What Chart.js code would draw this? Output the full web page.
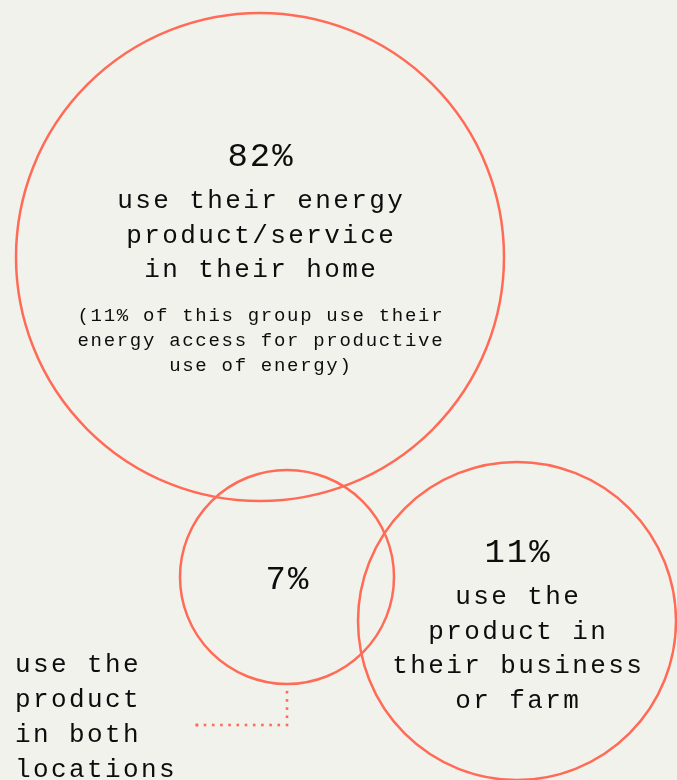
<!DOCTYPE html>
<html>
<head>
<meta charset="utf-8">
<script src="https://cdn.jsdelivr.net/npm/chart.js@4"></script>
<style>
  html, body { margin: 0; padding: 0; background: #f2f2ec; }
  #wrap { width: 677px; height: 780px; }
</style>
</head>
<body>
<div id="wrap"><canvas id="vennChart" width="677" height="780"></canvas></div>
<script>
// shares of respondents
const groups = ['home', 'both', 'business'];
const shares = [82, 7, 11];
const descriptions = [
    ['use their energy', 'product/service', 'in their home'],
    [],
    ['use the', 'product in', 'their business', 'or farm']
];
const notes = ['(11% of this group use their', 'energy access for productive', 'use of energy)'];
const bothLabel = ['use the', 'product', 'in both', 'locations'];

// diagram layout in axis units (x 0-677, y 0-780)
const centersX = [260, 287, 517];
const centersY = [257, 577, 621];
const radii = [244, 107, 159];

const coral = '#ff6b57';
const fontFamily = '"Liberation Mono", "DejaVu Sans Mono", monospace';

// draws text with extra letter spacing, char by char
function drawSpaced(ctx, text, x, y, size, spacing, align) {
    ctx.font = size + 'px ' + fontFamily;
    const chars = text.split('');
    const widths = chars.map(c => ctx.measureText(c).width);
    const total = widths.reduce((a, b) => a + b, 0) + spacing * (chars.length - 1);
    let cx = align === 'center' ? x - total / 2 : x;
    ctx.textAlign = 'left';
    ctx.textBaseline = 'alphabetic';
    chars.forEach((c, i) => {
        ctx.fillText(c, cx, y);
        cx += widths[i] + spacing;
    });
}

const labelsPlugin = {
    id: 'vennLabels',
    afterDatasetsDraw(chart) {
        const ctx = chart.ctx;
        const xs = chart.scales.x;
        const ys = chart.scales.y;
        ctx.save();
        ctx.fillStyle = '#0d0d0d';

        // big circle
        let cx = xs.getPixelForValue(centersX[0]);
        let cy = ys.getPixelForValue(centersY[0]);
        drawSpaced(ctx, shares[0] + '%', cx, cy - 91, 34, 2, 'center');
        descriptions[0].forEach((t, i) => drawSpaced(ctx, t, cx, cy - 49 + i * 34.5, 26, 2.4, 'center'));
        notes.forEach((t, i) => drawSpaced(ctx, t, cx, cy + 64 + i * 25, 19, 1.7, 'center'));

        // overlap circle
        cx = xs.getPixelForValue(centersX[1]);
        cy = ys.getPixelForValue(centersY[1]);
        drawSpaced(ctx, shares[1] + '%', cx, cy + 12, 34, 2, 'center');

        // business circle
        cx = xs.getPixelForValue(centersX[2]);
        cy = ys.getPixelForValue(centersY[2]);
        drawSpaced(ctx, shares[2] + '%', cx, cy - 59, 34, 2, 'center');
        descriptions[2].forEach((t, i) => drawSpaced(ctx, t, cx, cy - 17 + i * 34.5, 26, 2.4, 'center'));

        // label for the overlap, bottom left
        bothLabel.forEach((t, i) => drawSpaced(ctx, t, 15, 672 + i * 35, 26, 2.4, 'left'));

        // dotted leader from the overlap circle
        const lx = xs.getPixelForValue(centersX[1]);
        const top = ys.getPixelForValue(centersY[1]) + radii[1] + 6;
        const ly = 725;
        ctx.fillStyle = coral;
        for (let y = ly; y >= top; y -= 8.2) ctx.fillRect(lx - 1.3, y - 1.3, 2.6, 2.6);
        for (let x = lx - 8.2; x >= 196; x -= 8.2) ctx.fillRect(x - 1.3, ly - 1.3, 2.6, 2.6);
        ctx.fillRect(197 - 1.3, ly - 1.3, 2.6, 2.6);
        ctx.restore();
    }
};

new Chart(document.getElementById('vennChart').getContext('2d'), {
    type: 'bubble',
    data: {
        labels: groups,
        datasets: [{
            data: groups.map((g, i) => ({ x: centersX[i], y: centersY[i], r: radii[i], share: shares[i] })),
            backgroundColor: 'rgba(0,0,0,0)',
            borderColor: coral,
            borderWidth: 2.5,
            hoverRadius: 0,
            clip: false
        }]
    },
    options: {
        responsive: false,
        animation: false,
        events: [],
        layout: { padding: 0, autoPadding: false },
        plugins: {
            legend: { display: false },
            tooltip: { enabled: false }
        },
        scales: {
            x: { type: 'linear', min: 0, max: 677, display: false },
            y: { type: 'linear', min: 0, max: 780, reverse: true, display: false }
        }
    },
    plugins: [labelsPlugin]
});
</script>
</body>
</html>
